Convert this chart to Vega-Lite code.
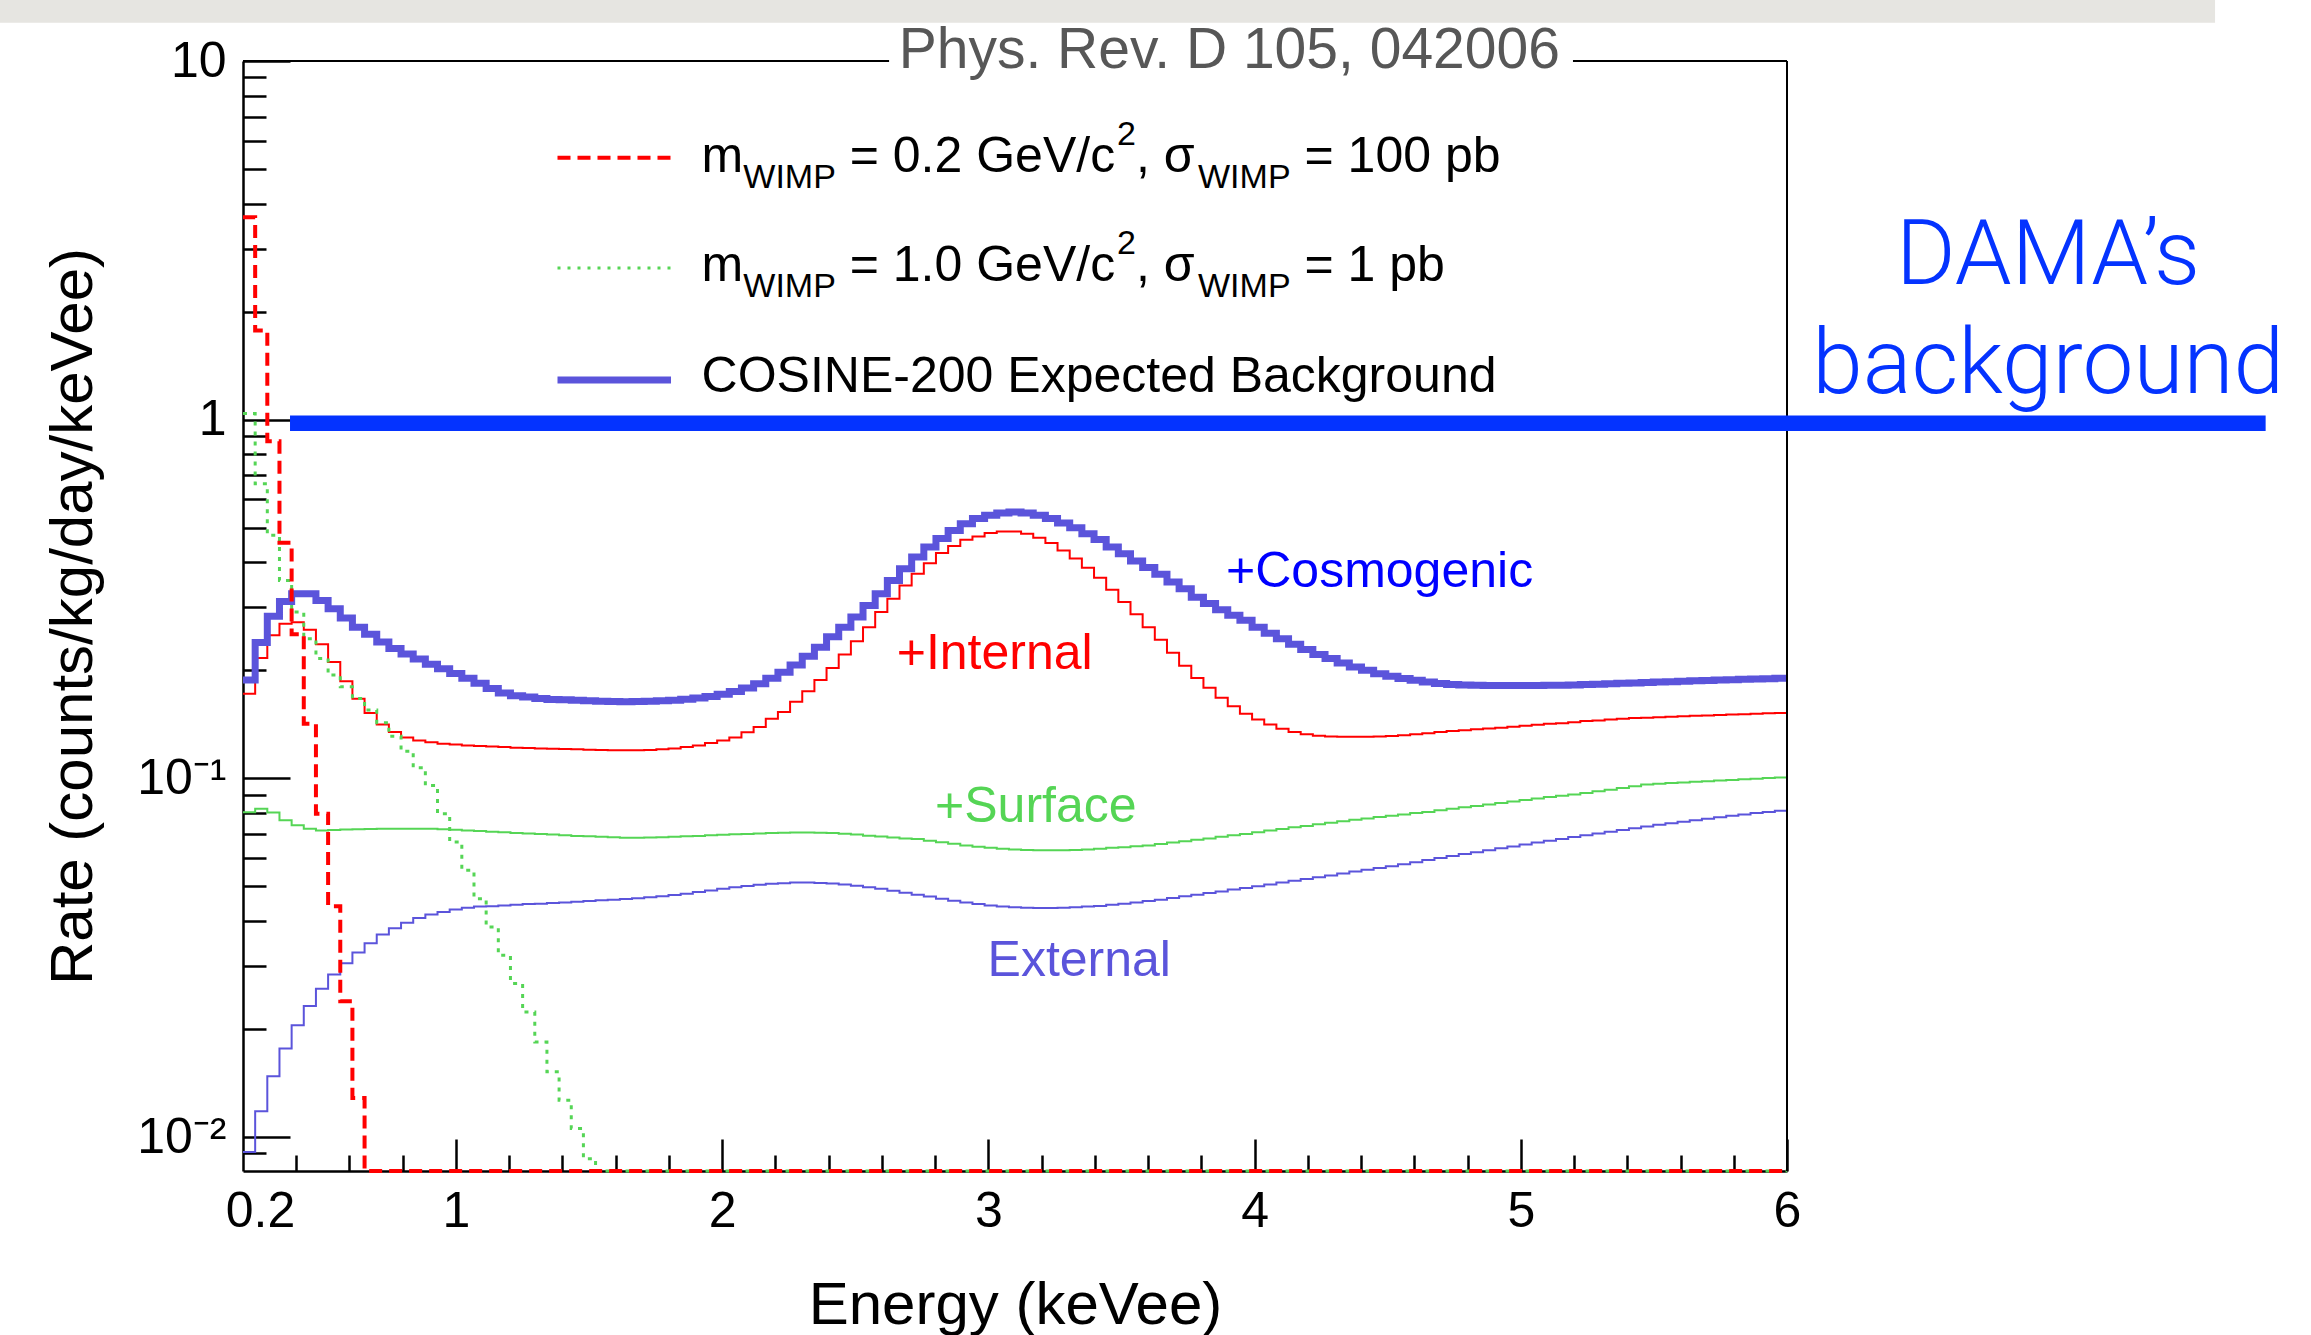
{
"$schema": "https://vega.github.io/schema/vega-lite/v6.json",
"width": 1544, "height": 1110,
"autosize": {"type": "none"},
"padding": {"left": 243, "top": 61, "right": 524, "bottom": 164},
"background": "white",
"config": {
 "view": {"stroke": null},
 "axis": {"grid": false, "domainColor": "black", "domainWidth": 2.5, "tickColor": "black", "tickWidth": 2.5,
  "labelFont": "Liberation Sans", "labelFontSize": 50, "labelColor": "black",
  "titleFont": "Liberation Sans", "titleFontSize": 60, "titleFontWeight": "normal", "titleColor": "black",
  "labelFlush": false, "labelOverlap": false, "labelBound": false}
},
"datasets": {
 "band": [{"e0": -0.8, "e1": 7.608, "r0": 12.79, "r1": 15}],
 "hist": [
{"e":0.2,"cos":0.188,"int":0.1722,"surf":0.0805,"ext":0.00908,"w02":3.67,"w10":1.04},
{"e":0.2457,"cos":0.239,"int":0.2164,"surf":0.0823,"ext":0.0118,"w02":1.774,"w10":0.663},
{"e":0.2913,"cos":0.283,"int":0.2504,"surf":0.0803,"ext":0.01476,"w02":0.87,"w10":0.476},
{"e":0.337,"cos":0.311,"int":0.27,"surf":0.0764,"ext":0.01764,"w02":0.454,"w10":0.356},
{"e":0.3827,"cos":0.327,"int":0.2723,"surf":0.074,"ext":0.0205,"w02":0.252,"w10":0.291},
{"e":0.4283,"cos":0.327,"int":0.2597,"surf":0.0724,"ext":0.0232,"w02":0.142,"w10":0.245},
{"e":0.474,"cos":0.313,"int":0.2364,"surf":0.0716,"ext":0.0259,"w02":0.0797,"w10":0.216},
{"e":0.5197,"cos":0.297,"int":0.211,"surf":0.0718,"ext":0.0284,"w02":0.044,"w10":0.194},
{"e":0.5654,"cos":0.28,"int":0.1864,"surf":0.072,"ext":0.0305,"w02":0.0239,"w10":0.18},
{"e":0.611,"cos":0.264,"int":0.1668,"surf":0.0721,"ext":0.0327,"w02":0.01285,"w10":0.167},
{"e":0.6567,"cos":0.252,"int":0.152,"surf":0.0722,"ext":0.0347,"w02":0.00804,"w10":0.155},
{"e":0.7024,"cos":0.24,"int":0.1414,"surf":0.0723,"ext":0.0367,"w02":0.00804,"w10":0.143},
{"e":0.748,"cos":0.23,"int":0.1346,"surf":0.0724,"ext":0.0382,"w02":0.00804,"w10":0.131},
{"e":0.7937,"cos":0.222,"int":0.1299,"surf":0.0724,"ext":0.0396,"w02":0.00804,"w10":0.119},
{"e":0.8394,"cos":0.215,"int":0.1276,"surf":0.0724,"ext":0.0408,"w02":0.00804,"w10":0.107},
{"e":0.885,"cos":0.208,"int":0.126,"surf":0.0723,"ext":0.0417,"w02":0.00804,"w10":0.0955},
{"e":0.9307,"cos":0.202,"int":0.1249,"surf":0.0721,"ext":0.0424,"w02":0.00804,"w10":0.0797},
{"e":0.9764,"cos":0.196,"int":0.1242,"surf":0.0719,"ext":0.0431,"w02":0.00804,"w10":0.0665},
{"e":1.022,"cos":0.19,"int":0.1235,"surf":0.0716,"ext":0.0436,"w02":0.00804,"w10":0.0554},
{"e":1.0677,"cos":0.184,"int":0.1231,"surf":0.0713,"ext":0.0439,"w02":0.00804,"w10":0.0462},
{"e":1.1134,"cos":0.178,"int":0.1226,"surf":0.071,"ext":0.044,"w02":0.00804,"w10":0.0385},
{"e":1.1591,"cos":0.173,"int":0.1222,"surf":0.0707,"ext":0.0442,"w02":0.00804,"w10":0.0321},
{"e":1.2047,"cos":0.17,"int":0.1218,"surf":0.0704,"ext":0.0444,"w02":0.00804,"w10":0.0268},
{"e":1.2504,"cos":0.1685,"int":0.1215,"surf":0.0702,"ext":0.0446,"w02":0.00804,"w10":0.0223},
{"e":1.2961,"cos":0.167,"int":0.1212,"surf":0.07,"ext":0.0447,"w02":0.00804,"w10":0.0184},
{"e":1.3417,"cos":0.166,"int":0.121,"surf":0.0697,"ext":0.0449,"w02":0.00804,"w10":0.0152},
{"e":1.3874,"cos":0.1655,"int":0.1207,"surf":0.0694,"ext":0.0451,"w02":0.00804,"w10":0.01266},
{"e":1.4331,"cos":0.165,"int":0.1205,"surf":0.0691,"ext":0.0453,"w02":0.00804,"w10":0.01056},
{"e":1.4787,"cos":0.1645,"int":0.1202,"surf":0.0689,"ext":0.0455,"w02":0.00804,"w10":0.0087},
{"e":1.5244,"cos":0.164,"int":0.12,"surf":0.0687,"ext":0.0457,"w02":0.00804,"w10":0.00804},
{"e":1.5701,"cos":0.1637,"int":0.1198,"surf":0.0685,"ext":0.0459,"w02":0.00804,"w10":0.00804},
{"e":1.6157,"cos":0.1635,"int":0.1197,"surf":0.0683,"ext":0.0461,"w02":0.00804,"w10":0.00804},
{"e":1.6614,"cos":0.1637,"int":0.1197,"surf":0.0683,"ext":0.0463,"w02":0.00804,"w10":0.00804},
{"e":1.7071,"cos":0.164,"int":0.12,"surf":0.0684,"ext":0.0466,"w02":0.00804,"w10":0.00804},
{"e":1.7528,"cos":0.1645,"int":0.1205,"surf":0.0685,"ext":0.0469,"w02":0.00804,"w10":0.00804},
{"e":1.7984,"cos":0.1652,"int":0.1212,"surf":0.0687,"ext":0.0473,"w02":0.00804,"w10":0.00804},
{"e":1.8441,"cos":0.1662,"int":0.1222,"surf":0.0689,"ext":0.0477,"w02":0.00804,"w10":0.00804},
{"e":1.8898,"cos":0.1675,"int":0.1235,"surf":0.0691,"ext":0.0482,"w02":0.00804,"w10":0.00804},
{"e":1.9354,"cos":0.1692,"int":0.1255,"surf":0.0694,"ext":0.0487,"w02":0.00804,"w10":0.00804},
{"e":1.9811,"cos":0.1715,"int":0.1276,"surf":0.0696,"ext":0.0492,"w02":0.00804,"w10":0.00804},
{"e":2.0268,"cos":0.1745,"int":0.13,"surf":0.0698,"ext":0.0497,"w02":0.00804,"w10":0.00804},
{"e":2.0724,"cos":0.1785,"int":0.1345,"surf":0.07,"ext":0.0501,"w02":0.00804,"w10":0.00804},
{"e":2.1181,"cos":0.1835,"int":0.139,"surf":0.0702,"ext":0.0505,"w02":0.00804,"w10":0.00804},
{"e":2.1638,"cos":0.19,"int":0.1465,"surf":0.0704,"ext":0.0508,"w02":0.00804,"w10":0.00804},
{"e":2.2094,"cos":0.1975,"int":0.153,"surf":0.0705,"ext":0.051,"w02":0.00804,"w10":0.00804},
{"e":2.2551,"cos":0.207,"int":0.1635,"surf":0.0706,"ext":0.0512,"w02":0.00804,"w10":0.00804},
{"e":2.3008,"cos":0.219,"int":0.175,"surf":0.0706,"ext":0.0512,"w02":0.00804,"w10":0.00804},
{"e":2.3465,"cos":0.232,"int":0.188,"surf":0.0705,"ext":0.0511,"w02":0.00804,"w10":0.00804},
{"e":2.3921,"cos":0.248,"int":0.203,"surf":0.0704,"ext":0.0509,"w02":0.00804,"w10":0.00804},
{"e":2.4378,"cos":0.264,"int":0.2216,"surf":0.0701,"ext":0.0506,"w02":0.00804,"w10":0.00804},
{"e":2.4835,"cos":0.2817,"int":0.2412,"surf":0.0697,"ext":0.0502,"w02":0.00804,"w10":0.00804},
{"e":2.5291,"cos":0.3035,"int":0.264,"surf":0.0692,"ext":0.0497,"w02":0.00804,"w10":0.00804},
{"e":2.5748,"cos":0.327,"int":0.2908,"surf":0.0688,"ext":0.0492,"w02":0.00804,"w10":0.00804},
{"e":2.6205,"cos":0.356,"int":0.317,"surf":0.0684,"ext":0.0486,"w02":0.00804,"w10":0.00804},
{"e":2.6661,"cos":0.384,"int":0.345,"surf":0.068,"ext":0.048,"w02":0.00804,"w10":0.00804},
{"e":2.7118,"cos":0.414,"int":0.372,"surf":0.0677,"ext":0.0474,"w02":0.00804,"w10":0.00804},
{"e":2.7575,"cos":0.4415,"int":0.398,"surf":0.067,"ext":0.0468,"w02":0.00804,"w10":0.00804},
{"e":2.8031,"cos":0.466,"int":0.4246,"surf":0.0664,"ext":0.0462,"w02":0.00804,"w10":0.00804},
{"e":2.8488,"cos":0.491,"int":0.4443,"surf":0.0657,"ext":0.0456,"w02":0.00804,"w10":0.00804},
{"e":2.8945,"cos":0.513,"int":0.4628,"surf":0.065,"ext":0.0451,"w02":0.00804,"w10":0.00804},
{"e":2.9402,"cos":0.53,"int":0.4727,"surf":0.0645,"ext":0.0446,"w02":0.00804,"w10":0.00804},
{"e":2.9858,"cos":0.541,"int":0.4829,"surf":0.064,"ext":0.0442,"w02":0.00804,"w10":0.00804},
{"e":3.0315,"cos":0.549,"int":0.4881,"surf":0.0636,"ext":0.0439,"w02":0.00804,"w10":0.00804},
{"e":3.0772,"cos":0.553,"int":0.4881,"surf":0.0633,"ext":0.0437,"w02":0.00804,"w10":0.00804},
{"e":3.1228,"cos":0.549,"int":0.481,"surf":0.0631,"ext":0.0436,"w02":0.00804,"w10":0.00804},
{"e":3.1685,"cos":0.541,"int":0.4688,"surf":0.063,"ext":0.0435,"w02":0.00804,"w10":0.00804},
{"e":3.2142,"cos":0.53,"int":0.453,"surf":0.063,"ext":0.0435,"w02":0.00804,"w10":0.00804},
{"e":3.2598,"cos":0.515,"int":0.432,"surf":0.063,"ext":0.0436,"w02":0.00804,"w10":0.00804},
{"e":3.3055,"cos":0.5,"int":0.41,"surf":0.0631,"ext":0.0437,"w02":0.00804,"w10":0.00804},
{"e":3.3512,"cos":0.481,"int":0.3868,"surf":0.0633,"ext":0.0439,"w02":0.00804,"w10":0.00804},
{"e":3.3969,"cos":0.463,"int":0.3626,"surf":0.0636,"ext":0.0441,"w02":0.00804,"w10":0.00804},
{"e":3.4425,"cos":0.4415,"int":0.3357,"surf":0.064,"ext":0.0444,"w02":0.00804,"w10":0.00804},
{"e":3.4882,"cos":0.423,"int":0.31,"surf":0.0643,"ext":0.0447,"w02":0.00804,"w10":0.00804},
{"e":3.5339,"cos":0.4035,"int":0.2866,"surf":0.0647,"ext":0.0451,"w02":0.00804,"w10":0.00804},
{"e":3.5795,"cos":0.387,"int":0.264,"surf":0.065,"ext":0.0455,"w02":0.00804,"w10":0.00804},
{"e":3.6252,"cos":0.3705,"int":0.2435,"surf":0.0656,"ext":0.0459,"w02":0.00804,"w10":0.00804},
{"e":3.6709,"cos":0.3526,"int":0.224,"surf":0.0662,"ext":0.0464,"w02":0.00804,"w10":0.00804},
{"e":3.7165,"cos":0.338,"int":0.2061,"surf":0.0668,"ext":0.0469,"w02":0.00804,"w10":0.00804},
{"e":3.7622,"cos":0.32,"int":0.1904,"surf":0.0674,"ext":0.0474,"w02":0.00804,"w10":0.00804},
{"e":3.8079,"cos":0.307,"int":0.179,"surf":0.068,"ext":0.0479,"w02":0.00804,"w10":0.00804},
{"e":3.8535,"cos":0.2953,"int":0.1679,"surf":0.0687,"ext":0.0484,"w02":0.00804,"w10":0.00804},
{"e":3.8992,"cos":0.2848,"int":0.1588,"surf":0.0694,"ext":0.049,"w02":0.00804,"w10":0.00804},
{"e":3.9449,"cos":0.2757,"int":0.1515,"surf":0.07,"ext":0.0495,"w02":0.00804,"w10":0.00804},
{"e":3.9906,"cos":0.264,"int":0.1458,"surf":0.0707,"ext":0.05,"w02":0.00804,"w10":0.00804},
{"e":4.0362,"cos":0.254,"int":0.1414,"surf":0.0715,"ext":0.0506,"w02":0.00804,"w10":0.00804},
{"e":4.0819,"cos":0.245,"int":0.1376,"surf":0.0722,"ext":0.0512,"w02":0.00804,"w10":0.00804},
{"e":4.1276,"cos":0.2364,"int":0.1346,"surf":0.073,"ext":0.0518,"w02":0.00804,"w10":0.00804},
{"e":4.1732,"cos":0.2285,"int":0.1327,"surf":0.0737,"ext":0.0524,"w02":0.00804,"w10":0.00804},
{"e":4.2189,"cos":0.2216,"int":0.1315,"surf":0.0745,"ext":0.053,"w02":0.00804,"w10":0.00804},
{"e":4.2646,"cos":0.2158,"int":0.1309,"surf":0.0752,"ext":0.0536,"w02":0.00804,"w10":0.00804},
{"e":4.3102,"cos":0.2097,"int":0.1307,"surf":0.0759,"ext":0.0543,"w02":0.00804,"w10":0.00804},
{"e":4.3559,"cos":0.2043,"int":0.1306,"surf":0.0766,"ext":0.055,"w02":0.00804,"w10":0.00804},
{"e":4.4016,"cos":0.2,"int":0.1306,"surf":0.0773,"ext":0.0556,"w02":0.00804,"w10":0.00804},
{"e":4.4472,"cos":0.1958,"int":0.1309,"surf":0.078,"ext":0.0562,"w02":0.00804,"w10":0.00804},
{"e":4.4929,"cos":0.1925,"int":0.1312,"surf":0.0787,"ext":0.0569,"w02":0.00804,"w10":0.00804},
{"e":4.5386,"cos":0.1897,"int":0.1318,"surf":0.0793,"ext":0.0576,"w02":0.00804,"w10":0.00804},
{"e":4.5843,"cos":0.1876,"int":0.1327,"surf":0.08,"ext":0.0584,"w02":0.00804,"w10":0.00804},
{"e":4.6299,"cos":0.1855,"int":0.1336,"surf":0.0806,"ext":0.0592,"w02":0.00804,"w10":0.00804},
{"e":4.6756,"cos":0.1838,"int":0.1346,"surf":0.0815,"ext":0.06,"w02":0.00804,"w10":0.00804},
{"e":4.7213,"cos":0.1828,"int":0.1355,"surf":0.0823,"ext":0.0607,"w02":0.00804,"w10":0.00804},
{"e":4.7669,"cos":0.1822,"int":0.1362,"surf":0.083,"ext":0.0615,"w02":0.00804,"w10":0.00804},
{"e":4.8126,"cos":0.1818,"int":0.137,"surf":0.0838,"ext":0.0622,"w02":0.00804,"w10":0.00804},
{"e":4.8583,"cos":0.1816,"int":0.1378,"surf":0.0846,"ext":0.063,"w02":0.00804,"w10":0.00804},
{"e":4.9039,"cos":0.1815,"int":0.1384,"surf":0.0854,"ext":0.0638,"w02":0.00804,"w10":0.00804},
{"e":4.9496,"cos":0.1815,"int":0.1393,"surf":0.0862,"ext":0.0646,"w02":0.00804,"w10":0.00804},
{"e":4.9953,"cos":0.1815,"int":0.1402,"surf":0.087,"ext":0.0654,"w02":0.00804,"w10":0.00804},
{"e":5.0409,"cos":0.1816,"int":0.141,"surf":0.0878,"ext":0.0662,"w02":0.00804,"w10":0.00804},
{"e":5.0866,"cos":0.1817,"int":0.142,"surf":0.0887,"ext":0.067,"w02":0.00804,"w10":0.00804},
{"e":5.1323,"cos":0.1819,"int":0.1425,"surf":0.0895,"ext":0.0678,"w02":0.00804,"w10":0.00804},
{"e":5.178,"cos":0.1822,"int":0.1434,"surf":0.0902,"ext":0.0686,"w02":0.00804,"w10":0.00804},
{"e":5.2236,"cos":0.1826,"int":0.1444,"surf":0.091,"ext":0.0694,"w02":0.00804,"w10":0.00804},
{"e":5.2693,"cos":0.183,"int":0.145,"surf":0.092,"ext":0.0702,"w02":0.00804,"w10":0.00804},
{"e":5.315,"cos":0.1835,"int":0.1458,"surf":0.093,"ext":0.071,"w02":0.00804,"w10":0.00804},
{"e":5.3606,"cos":0.184,"int":0.1466,"surf":0.094,"ext":0.0718,"w02":0.00804,"w10":0.00804},
{"e":5.4063,"cos":0.1845,"int":0.1472,"surf":0.0951,"ext":0.0726,"w02":0.00804,"w10":0.00804},
{"e":5.452,"cos":0.185,"int":0.1476,"surf":0.0962,"ext":0.0734,"w02":0.00804,"w10":0.00804},
{"e":5.4976,"cos":0.1855,"int":0.148,"surf":0.0966,"ext":0.0742,"w02":0.00804,"w10":0.00804},
{"e":5.5433,"cos":0.186,"int":0.1485,"surf":0.097,"ext":0.0749,"w02":0.00804,"w10":0.00804},
{"e":5.589,"cos":0.1865,"int":0.149,"surf":0.0974,"ext":0.0757,"w02":0.00804,"w10":0.00804},
{"e":5.6346,"cos":0.187,"int":0.1494,"surf":0.0978,"ext":0.0764,"w02":0.00804,"w10":0.00804},
{"e":5.6803,"cos":0.1875,"int":0.1498,"surf":0.0982,"ext":0.0772,"w02":0.00804,"w10":0.00804},
{"e":5.726,"cos":0.188,"int":0.1502,"surf":0.0986,"ext":0.0779,"w02":0.00804,"w10":0.00804},
{"e":5.7717,"cos":0.1884,"int":0.1506,"surf":0.099,"ext":0.0786,"w02":0.00804,"w10":0.00804},
{"e":5.8173,"cos":0.1888,"int":0.151,"surf":0.0994,"ext":0.0793,"w02":0.00804,"w10":0.00804},
{"e":5.863,"cos":0.1892,"int":0.1514,"surf":0.0998,"ext":0.08,"w02":0.00804,"w10":0.00804},
{"e":5.9087,"cos":0.1896,"int":0.1518,"surf":0.1002,"ext":0.0806,"w02":0.00804,"w10":0.00804},
{"e":5.9543,"cos":0.19,"int":0.1522,"surf":0.1006,"ext":0.0812,"w02":0.00804,"w10":0.00804},
{"e":6.0,"cos":0.19,"int":0.1522,"surf":0.1006,"ext":0.0812,"w02":0.00804,"w10":0.00804}
 ],
 "frameH": [{"e0": 0.2, "e1": 2.627, "rate": 10}, {"e0": 5.196, "e1": 6, "rate": 10}],
 "frameV": [{"e": 6, "r0": 0.00804, "r1": 10}],
 "dama": [{"e0": 0.3766, "e1": 7.798, "rate": 0.977}],
 "damaText": [{"e": 6.9807, "rate": 2.39, "t": "DAMA’s"}, {"e": 6.9807, "rate": 1.187, "t": "background"}],
 "pubTitle": [{"e": 3.905, "rate": 9.561, "t": "Phys. Rev. D 105, 042006"}],
 "notes": [
  {"e": 3.8927, "rate": 0.3423, "t": "+Cosmogenic"},
  {"e": 2.6557, "rate": 0.2014, "t": "+Internal"},
  {"e": 2.7996, "rate": 0.0757, "t": "+Surface"},
  {"e": 2.9968, "rate": 0.02812, "t": "External"}
 ],
 "legRed": [{"e0": 1.3814, "e1": 1.8078, "rate": 5.376}],
 "legGreen": [{"e0": 1.3814, "e1": 1.8078, "rate": 2.648}],
 "legBlue": [{"e0": 1.3814, "e1": 1.8078, "rate": 1.29}],
 "legMain": [
  {"e": 1.9228, "rate": 4.904, "t": "m"},
  {"e": 2.4791, "rate": 4.904, "t": "= 0.2 GeV/c"},
  {"e": 3.5546, "rate": 4.904, "t": ", σ"},
  {"e": 4.1876, "rate": 4.904, "t": "= 100 pb"},
  {"e": 1.9228, "rate": 2.436, "t": "m"},
  {"e": 2.4791, "rate": 2.436, "t": "= 1.0 GeV/c"},
  {"e": 3.5546, "rate": 2.436, "t": ", σ"},
  {"e": 4.1876, "rate": 2.436, "t": "= 1 pb"},
  {"e": 1.9228, "rate": 1.195, "t": "COSINE-200 Expected Background"}
 ],
 "legSub": [
  {"e": 2.0794, "rate": 4.904, "t": "WIMP"},
  {"e": 3.7875, "rate": 4.904, "t": "WIMP"},
  {"e": 2.0794, "rate": 2.436, "t": "WIMP"},
  {"e": 3.7875, "rate": 2.436, "t": "WIMP"}
 ],
 "legSup": [
  {"e": 3.4833, "rate": 4.904, "t": "2"},
  {"e": 3.4833, "rate": 2.436, "t": "2"}
 ]
},
"resolve": {"axis": {"x": "independent", "y": "independent"}},
"layer": [
 {"data": {"name": "band"}, "mark": {"type": "rect", "color": "#e6e5e1", "clip": false},
  "encoding": {
   "x": {"field": "e0", "type": "quantitative", "scale": {"domain": [0.2, 6], "nice": false, "zero": false}, "axis": null},
   "x2": {"field": "e1"},
   "y": {"field": "r0", "type": "quantitative", "scale": {"type": "log", "domain": [0.00804, 10], "nice": false}, "axis": null},
   "y2": {"field": "r1"}}},
 {"data": {"name": "hist"}, "mark": {"type": "line", "color": "#5b54db", "strokeWidth": 2, "interpolate": "step-after", "strokeJoin": "miter"},
  "encoding": {
   "x": {"field": "e", "type": "quantitative", "scale": {"domain": [0.2, 6], "nice": false, "zero": false},
    "axis": {"orient": "bottom", "values": [1, 2, 3, 4, 5, 6], "ticks": false, "domain": true, "labelPadding": 15,
     "title": "Energy (keVee)", "titleX": 772, "titleY": 152, "titleBaseline": "alphabetic", "titleAlign": "center"}},
   "y": {"field": "ext", "type": "quantitative", "scale": {"type": "log", "domain": [0.00804, 10], "nice": false},
    "axis": {"orient": "left", "values": [0.01, 0.1, 1, 10], "ticks": false, "domain": true, "labelPadding": 17,
     "labelExpr": "datum.value > 5 ? '10' : datum.value > 0.5 ? '1' : datum.value > 0.05 ? '10⁻¹' : '10⁻²'",
     "title": "Rate (counts/kg/day/keVee)", "titleX": -152, "titleY": 555, "titleBaseline": "alphabetic", "titleAlign": "center", "titleAngle": 270}}}},
 {"data": {"name": "hist"}, "mark": {"type": "line", "color": "#55d555", "strokeWidth": 2, "interpolate": "step-after", "strokeJoin": "miter"},
  "encoding": {
   "x": {"field": "e", "type": "quantitative", "scale": {"domain": [0.2, 6], "nice": false, "zero": false},
    "axis": {"orient": "bottom", "values": [0.2], "labelExpr": "'0.2'", "ticks": false, "domain": false, "labelPadding": 15, "labelOffset": 17, "title": null}},
   "y": {"field": "surf", "type": "quantitative", "scale": {"type": "log", "domain": [0.00804, 10], "nice": false},
    "axis": {"orient": "left", "values": [0.01, 0.1, 1, 10], "labels": false, "domain": false, "ticks": true, "tickSize": -47, "title": null}}}},
 {"data": {"name": "hist"}, "mark": {"type": "line", "color": "#ff0000", "strokeWidth": 2, "interpolate": "step-after", "strokeJoin": "miter"},
  "encoding": {
   "x": {"field": "e", "type": "quantitative", "scale": {"domain": [0.2, 6], "nice": false, "zero": false},
    "axis": {"orient": "bottom", "values": [1, 2, 3, 4, 5, 6], "labels": false, "domain": false, "ticks": true, "tickSize": -32, "title": null}},
   "y": {"field": "int", "type": "quantitative", "scale": {"type": "log", "domain": [0.00804, 10], "nice": false},
    "axis": {"orient": "left", "values": [0.009, 0.02, 0.03, 0.04, 0.05, 0.06, 0.07, 0.08, 0.09, 0.2, 0.3, 0.4, 0.5, 0.6, 0.7, 0.8, 0.9, 2, 3, 4, 5, 6, 7, 8, 9],
     "labels": false, "domain": false, "ticks": true, "tickSize": -23, "title": null}}}},
 {"data": {"name": "hist"}, "mark": {"type": "line", "color": "#5b54db", "strokeWidth": 7, "interpolate": "step-after", "strokeJoin": "miter"},
  "encoding": {
   "x": {"field": "e", "type": "quantitative", "scale": {"domain": [0.2, 6], "nice": false, "zero": false},
    "axis": {"orient": "bottom", "values": [0.4, 0.6, 0.8, 1.2, 1.4, 1.6, 1.8, 2.2, 2.4, 2.6, 2.8, 3.2, 3.4, 3.6, 3.8, 4.2, 4.4, 4.6, 4.8, 5.2, 5.4, 5.6, 5.8],
     "labels": false, "domain": false, "ticks": true, "tickSize": -16, "title": null}},
   "y": {"field": "cos", "type": "quantitative", "scale": {"type": "log", "domain": [0.00804, 10], "nice": false}, "axis": null}}},
 {"data": {"name": "hist"}, "mark": {"type": "line", "color": "#55d555", "strokeWidth": 3, "strokeDash": [4, 6], "interpolate": "step-after", "strokeJoin": "miter"},
  "encoding": {
   "x": {"field": "e", "type": "quantitative", "scale": {"domain": [0.2, 6], "nice": false, "zero": false}, "axis": null},
   "y": {"field": "w10", "type": "quantitative", "scale": {"type": "log", "domain": [0.00804, 10], "nice": false}, "axis": null}}},
 {"data": {"name": "hist"}, "mark": {"type": "line", "color": "#ff0000", "strokeWidth": 4, "strokeDash": [13, 7], "interpolate": "step-after", "strokeJoin": "miter"},
  "encoding": {
   "x": {"field": "e", "type": "quantitative", "scale": {"domain": [0.2, 6], "nice": false, "zero": false}, "axis": null},
   "y": {"field": "w02", "type": "quantitative", "scale": {"type": "log", "domain": [0.00804, 10], "nice": false}, "axis": null}}},
 {"data": {"name": "frameH"}, "mark": {"type": "rule", "color": "black", "strokeWidth": 2, "clip": false},
  "encoding": {
   "x": {"field": "e0", "type": "quantitative", "scale": {"domain": [0.2, 6], "nice": false, "zero": false}, "axis": null},
   "x2": {"field": "e1"},
   "y": {"field": "rate", "type": "quantitative", "scale": {"type": "log", "domain": [0.00804, 10], "nice": false}, "axis": null}}},
 {"data": {"name": "frameV"}, "mark": {"type": "rule", "color": "black", "strokeWidth": 2, "clip": false},
  "encoding": {
   "x": {"field": "e", "type": "quantitative", "scale": {"domain": [0.2, 6], "nice": false, "zero": false}, "axis": null},
   "y": {"field": "r0", "type": "quantitative", "scale": {"type": "log", "domain": [0.00804, 10], "nice": false}, "axis": null},
   "y2": {"field": "r1"}}},
 {"data": {"name": "dama"}, "mark": {"type": "rule", "color": "#0433ff", "strokeWidth": 15.5, "clip": false},
  "encoding": {
   "x": {"field": "e0", "type": "quantitative", "scale": {"domain": [0.2, 6], "nice": false, "zero": false}, "axis": null},
   "x2": {"field": "e1"},
   "y": {"field": "rate", "type": "quantitative", "scale": {"type": "log", "domain": [0.00804, 10], "nice": false}, "axis": null}}},
 {"data": {"name": "damaText"}, "mark": {"type": "text", "font": "Roboto", "fontWeight": 300, "fontSize": 91, "color": "#0433ff", "align": "center", "baseline": "alphabetic", "clip": false},
  "encoding": {
   "x": {"field": "e", "type": "quantitative", "scale": {"domain": [0.2, 6], "nice": false, "zero": false}, "axis": null},
   "y": {"field": "rate", "type": "quantitative", "scale": {"type": "log", "domain": [0.00804, 10], "nice": false}, "axis": null},
   "text": {"field": "t"}}},
 {"data": {"name": "pubTitle"}, "mark": {"type": "text", "font": "Liberation Sans", "fontSize": 57, "color": "#575757", "align": "center", "baseline": "alphabetic", "clip": false},
  "encoding": {
   "x": {"field": "e", "type": "quantitative", "scale": {"domain": [0.2, 6], "nice": false, "zero": false}, "axis": null},
   "y": {"field": "rate", "type": "quantitative", "scale": {"type": "log", "domain": [0.00804, 10], "nice": false}, "axis": null},
   "text": {"field": "t"}}},
 {"data": {"name": "notes"}, "mark": {"type": "text", "font": "Liberation Sans", "fontSize": 50, "align": "left", "baseline": "alphabetic", "clip": false},
  "encoding": {
   "x": {"field": "e", "type": "quantitative", "scale": {"domain": [0.2, 6], "nice": false, "zero": false}, "axis": null},
   "y": {"field": "rate", "type": "quantitative", "scale": {"type": "log", "domain": [0.00804, 10], "nice": false}, "axis": null},
   "color": {"field": "t", "type": "nominal", "legend": null,
    "scale": {"domain": ["+Cosmogenic", "+Internal", "+Surface", "External"], "range": ["#0000ff", "#ff0000", "#55d555", "#5b54db"]}},
   "text": {"field": "t"}}},
 {"data": {"name": "legRed"}, "mark": {"type": "rule", "color": "#ff0000", "strokeWidth": 4, "strokeDash": [13, 7], "clip": false},
  "encoding": {
   "x": {"field": "e0", "type": "quantitative", "scale": {"domain": [0.2, 6], "nice": false, "zero": false}, "axis": null},
   "x2": {"field": "e1"},
   "y": {"field": "rate", "type": "quantitative", "scale": {"type": "log", "domain": [0.00804, 10], "nice": false}, "axis": null}}},
 {"data": {"name": "legGreen"}, "mark": {"type": "rule", "color": "#55d555", "strokeWidth": 3, "strokeDash": [3, 7], "clip": false},
  "encoding": {
   "x": {"field": "e0", "type": "quantitative", "scale": {"domain": [0.2, 6], "nice": false, "zero": false}, "axis": null},
   "x2": {"field": "e1"},
   "y": {"field": "rate", "type": "quantitative", "scale": {"type": "log", "domain": [0.00804, 10], "nice": false}, "axis": null}}},
 {"data": {"name": "legBlue"}, "mark": {"type": "rule", "color": "#5b54db", "strokeWidth": 7, "clip": false},
  "encoding": {
   "x": {"field": "e0", "type": "quantitative", "scale": {"domain": [0.2, 6], "nice": false, "zero": false}, "axis": null},
   "x2": {"field": "e1"},
   "y": {"field": "rate", "type": "quantitative", "scale": {"type": "log", "domain": [0.00804, 10], "nice": false}, "axis": null}}},
 {"data": {"name": "legMain"}, "mark": {"type": "text", "font": "Liberation Sans", "fontSize": 50, "color": "black", "align": "left", "baseline": "alphabetic", "clip": false},
  "encoding": {
   "x": {"field": "e", "type": "quantitative", "scale": {"domain": [0.2, 6], "nice": false, "zero": false}, "axis": null},
   "y": {"field": "rate", "type": "quantitative", "scale": {"type": "log", "domain": [0.00804, 10], "nice": false}, "axis": null},
   "text": {"field": "t"}}},
 {"data": {"name": "legSub"}, "mark": {"type": "text", "font": "Liberation Sans", "fontSize": 34, "color": "black", "align": "left", "baseline": "alphabetic", "dy": 16, "clip": false},
  "encoding": {
   "x": {"field": "e", "type": "quantitative", "scale": {"domain": [0.2, 6], "nice": false, "zero": false}, "axis": null},
   "y": {"field": "rate", "type": "quantitative", "scale": {"type": "log", "domain": [0.00804, 10], "nice": false}, "axis": null},
   "text": {"field": "t"}}},
 {"data": {"name": "legSup"}, "mark": {"type": "text", "font": "Liberation Sans", "fontSize": 34, "color": "black", "align": "left", "baseline": "alphabetic", "dy": -27, "clip": false},
  "encoding": {
   "x": {"field": "e", "type": "quantitative", "scale": {"domain": [0.2, 6], "nice": false, "zero": false}, "axis": null},
   "y": {"field": "rate", "type": "quantitative", "scale": {"type": "log", "domain": [0.00804, 10], "nice": false}, "axis": null},
   "text": {"field": "t"}}}
]
}
